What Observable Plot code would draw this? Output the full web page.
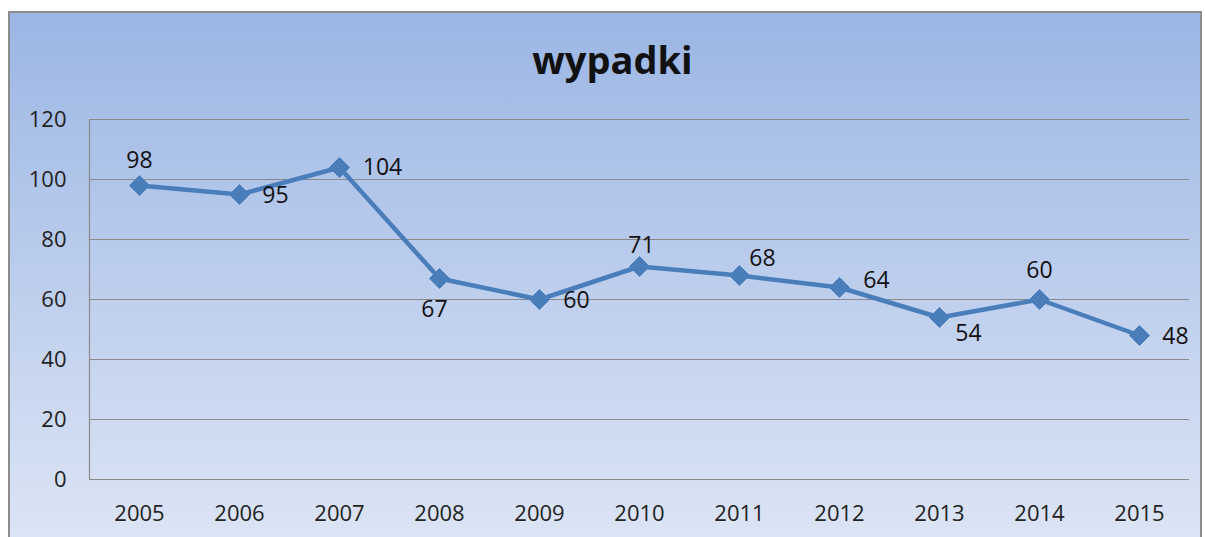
<!DOCTYPE html>
<html>
<head>
<meta charset="utf-8">
<script src="https://cdn.jsdelivr.net/npm/d3@7"></script>
<script src="https://cdn.jsdelivr.net/npm/@observablehq/plot@0.6"></script>
<style>
  body { margin: 0; background: #fff; }
  #page { position: relative; width: 1205px; height: 537px; overflow: hidden; }
  #frame { position: absolute; left: 8px; top: 11px; width: 1190px; height: 530px;
    border: 2px solid #8c8c8c;
    background: linear-gradient(to bottom, #9bb6e4 0%, #b9cbec 45%, #dce5f5 100%); }
  #title { position: absolute; left: 0; top: 34px; width: 1225px; text-align: center;
    font-family: "Open Sans", sans-serif; font-weight: bold; font-size: 38px; line-height: 50px; color: #111; }
  #chart { position: absolute; left: 0; top: 90px; }
  #chart svg { background: transparent !important; overflow: visible; }
</style>
</head>
<body>
<div id="page">
  <div id="frame"></div>
  <div id="title">wypadki</div>
  <div id="chart"></div>
</div>
<script>
const years = ["2005","2006","2007","2008","2009","2010","2011","2012","2013","2014","2015"];
const values = [98, 95, 104, 67, 60, 71, 68, 64, 54, 60, 48];
const yTicks = [0, 20, 40, 60, 80, 100, 120];

const data = years.map((y, i) => ({year: y, value: values[i]}));

// label placement (style): offsets relative to each point
const offsets = {
  "2005": [0, -25], "2006": [36, 1], "2007": [43, 0], "2008": [-5, 31],
  "2009": [37, 1], "2010": [2, -21], "2011": [23, -17], "2012": [37, -7],
  "2013": [29, 16], "2014": [0, -29], "2015": [36, 1]
};

const line = "#4a7ebb";
const chart = Plot.plot({
  width: 1205,
  height: 447,
  marginLeft: 89,
  marginRight: 16,
  marginTop: 29,
  marginBottom: 58,
  style: { background: "transparent", fontFamily: "Open Sans, sans-serif", fontSize: "22px", color: "#222" },
  x: { type: "point", padding: 0.5, domain: years, label: null },
  y: { domain: [0, 120], ticks: yTicks, label: null },
  marks: [
    Plot.gridY(yTicks, { stroke: "#8a8a8a", strokeOpacity: 1, strokeWidth: 1.2 }),
    Plot.ruleX([years[0]], { dx: -50, stroke: "#8a8a8a", strokeWidth: 1.2 }),
    Plot.axisX({ tickSize: 0, tickPadding: 26, fontSize: 22 }),
    Plot.axisY({ ticks: yTicks, tickSize: 0, tickPadding: 23, fontSize: 22 }),
    Plot.lineY(data, { x: "year", y: "value", stroke: line, strokeWidth: 4.5 }),
    Plot.dot(data, { x: "year", y: "value", symbol: "diamond2", r: 9, fill: line, stroke: line, strokeWidth: 1 }),
    ...data.map(d => Plot.text([d], {
      x: "year", y: "value", text: d => String(d.value),
      dx: offsets[d.year][0], dy: offsets[d.year][1],
      fontSize: 23, fill: "#111"
    }))
  ]
});
document.getElementById("chart").appendChild(chart);
</script>
</body>
</html>
